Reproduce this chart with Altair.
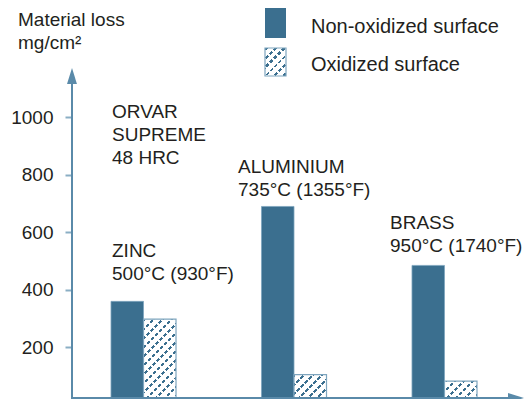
import altair as alt
import pandas as pd

# ---------------- data ----------------
categories = ["ZINC", "ALUMINIUM", "BRASS"]
surfaces = ["Non-oxidized surface", "Oxidized surface"]
non_oxidized = [359, 689, 484]
oxidized = [297, 104, 82]
y_ticks = [200, 400, 600, 800, 1000]
y_title = ["Material loss", "mg/cm²"]
steel_label = ["ORVAR", "SUPREME", "48 HRC"]
metal_labels = [["ZINC", "500°C (930°F)"],
                ["ALUMINIUM", "735°C (1355°F)"],
                ["BRASS", "950°C (1740°F)"]]

# ---------------- style / layout ----------------
BLUE = "#3b6f8f"
AXIS = "#5a8aa9"
TICK = "#8aaec4"
EDGE = "#7ea5be"
TXT = "#231f20"
FONT = "Liberation Sans"
FS = 19
W, H = 452, 391
PX_PER_UNIT = 0.2876
Y_MIN = 19.5
Y_MAX = Y_MIN + H / PX_PER_UNIT
P_IN, P_OUT, ALIGN = 0.568, 0.2857, 0.4535

step = W / (len(categories) - P_IN + 2 * P_OUT)
bar_w = step * (1 - P_IN) / 2


def stripes(w, h, period, width, on, off, direction):
    L = w + h
    k = L / (w * w + h * h)
    stops = []
    pos = 0.0
    while pos < L:
        a = pos / L
        b = min(1.0, (pos + width) / L)
        c = min(1.0, (pos + period) / L)
        stops += [{"offset": a, "color": on}, {"offset": b, "color": on},
                  {"offset": b, "color": off}, {"offset": c, "color": off}]
        pos += period
    if direction == "up":      # "/" lines
        return {"gradient": "linear", "x1": 0, "y1": 0, "x2": k * w, "y2": k * h,
                "stops": stops}
    return {"gradient": "linear", "x1": 0, "y1": 1, "x2": k * w, "y2": 1 - k * h,
            "stops": stops}


def hatch_main(w, h):
    return stripes(w, h, 9.0, 3.0, BLUE, "white", "up")


def hatch_break(w, h):
    return stripes(w, h, 8.0, 2.6, "white", "rgba(255,255,255,0)", "down")


df = pd.DataFrame({
    "metal": categories * 2,
    "surface": [surfaces[0]] * 3 + [surfaces[1]] * 3,
    "value": non_oxidized + oxidized,
})

xs = alt.X("metal:N", sort=categories, axis=None,
           scale=alt.Scale(domain=categories, paddingInner=P_IN,
                           paddingOuter=P_OUT, align=ALIGN))
xo = alt.XOffset("surface:N", scale=alt.Scale(domain=surfaces, paddingInner=0,
                                               paddingOuter=0))
ys = alt.Y("value:Q", title=None,
           scale=alt.Scale(domain=[Y_MIN, Y_MAX], nice=False, zero=False, clamp=True),
           axis=alt.Axis(values=y_ticks, format="d", domain=False, grid=False,
                         tickColor=TICK, tickSize=7, tickWidth=2, labelFontSize=FS,
                         labelFont=FONT, labelColor=TXT, labelPadding=12))

base = alt.Chart(df)

bars_non = base.transform_filter(alt.datum.surface == surfaces[0]).mark_bar(
    color=BLUE, stroke=EDGE, strokeWidth=0.8
).encode(x=xs, xOffset=xo, y=ys, y2=alt.datum(0))

layers = [bars_non]
for m, v in zip(categories, oxidized):
    h_px = (v - Y_MIN) * PX_PER_UNIT
    sel = base.transform_filter((alt.datum.surface == surfaces[1]) & (alt.datum.metal == m))
    layers.append(sel.mark_bar(fill=hatch_main(bar_w, h_px), strokeWidth=0)
                  .encode(x=xs, xOffset=xo, y=ys, y2=alt.datum(0)))
    layers.append(sel.mark_bar(fill=hatch_break(bar_w, h_px), stroke=EDGE,
                               strokeWidth=1.2)
                  .encode(x=xs, xOffset=xo, y=ys, y2=alt.datum(0)))

one = alt.Chart(pd.DataFrame({"a": [0]}))

# axes lines and arrows
y_line = one.mark_rule(color=AXIS, strokeWidth=2).encode(
    x=alt.value(0), y=alt.value(H), y2=alt.value(70))
y_arrow = one.mark_point(shape="M0,-1L0.62,1L-0.62,1Z", filled=True, color=AXIS,
                         opacity=1, size=256).encode(x=alt.value(0), y=alt.value(68))
x_line = one.mark_rule(color=AXIS, strokeWidth=2).encode(
    x=alt.value(0), x2=alt.value(440), y=alt.value(H - 1))
x_arrow = one.mark_point(shape="M1,0L-1,-0.62L-1,0.62Z", filled=True, color=AXIS,
                         opacity=1, size=256).encode(x=alt.value(W - 8), y=alt.value(H - 1))


def txt(lines, x, y, fs=FS):
    return alt.Chart(pd.DataFrame({"t": [lines]})).mark_text(
        align="left", baseline="alphabetic", font=FONT, fontSize=fs, color=TXT,
        lineHeight=23
    ).encode(text="t", x=alt.value(x), y=alt.value(y))


title_t = txt(y_title, -54, 18)
steel_t = txt(steel_label, 40, 110)
zinc_t = txt(metal_labels[0], 40, 249)
alu_t = txt(metal_labels[1], 166, 165)
brass_t = txt(metal_labels[2], 318, 221)

# legend
leg_solid = one.mark_rect(color=BLUE).encode(
    x=alt.value(193), x2=alt.value(214), y=alt.value(0), y2=alt.value(30))
leg_hatch1 = one.mark_rect(fill=hatch_main(21, 28)).encode(
    x=alt.value(193), x2=alt.value(214), y=alt.value(40), y2=alt.value(68))
leg_hatch2 = one.mark_rect(fill=hatch_break(21, 28), stroke=EDGE, strokeWidth=1.2).encode(
    x=alt.value(193), x2=alt.value(214), y=alt.value(40), y2=alt.value(68))
leg_t1 = txt(surfaces[0], 239, 25, 20)
leg_t2 = txt(surfaces[1], 239, 63, 20)

chart = alt.layer(
    *layers, y_line, y_arrow, x_line, x_arrow,
    title_t, steel_t, zinc_t, alu_t, brass_t,
    leg_solid, leg_hatch1, leg_hatch2, leg_t1, leg_t2
).properties(
    width=W, height=H,
    autosize=alt.AutoSizeParams(type="none"),
    padding={"left": 64, "top": 0, "right": 0, "bottom": 0},
).configure_view(stroke=None)

chart.save("out.html", embed_options={"renderer": "svg", "actions": False})
